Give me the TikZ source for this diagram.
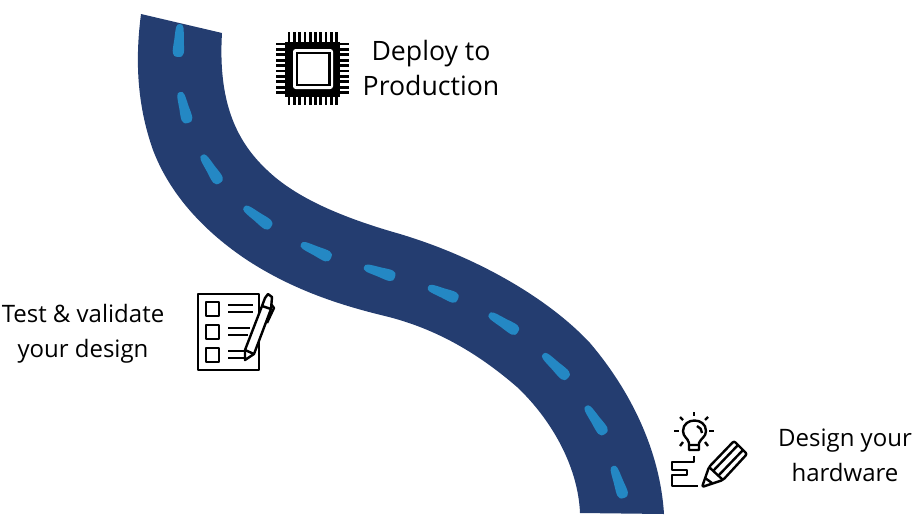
\documentclass[tikz,border=0pt]{standalone}
\usepackage{fontspec}
\setmainfont{Open Sans}
\usetikzlibrary{positioning}
\definecolor{roadblue}{HTML}{243D70}
\definecolor{lineblue}{HTML}{2488C4}
\tikzset{
  road/.style={fill=roadblue, draw=none},
  lanemark/.style={fill=lineblue, draw=none},
  caption/.style={align=center, font=\fontsize{18}{26}\selectfont, inner sep=0pt},
  bigcaption/.style={caption, font=\fontsize{20}{26}\selectfont},
  icon/.style={draw=black, line width=1.8pt, line join=round},
  pin/.style={draw=black, line width=2pt}
}
\begin{document}
\begin{tikzpicture}[x=0.75pt, y=-0.75pt]
  \useasboundingbox (0,0) rectangle (916,521);
  % road
  \fill[road] (141,14) .. controls (135,60) and (137,105) .. (153,150)
    .. controls (170,195) and (205,232) .. (247,260)
    .. controls (290,288) and (335,304) .. (385,316)
    .. controls (438,329) and (480,355) .. (517,387)
    .. controls (550,418) and (578,465) .. (580,513)
    -- (664,514)
    .. controls (660,450) and (630,390) .. (590,343)
    .. controls (550,300) and (480,258) .. (400,234)
    .. controls (340,217) and (295,197) .. (267,170)
    .. controls (235,140) and (218,100) .. (222,33) -- cycle;
  % lane marks
  \foreach \xa/\ya/\xb/\yb in {180/24/178/57, 180/92/188/123, 202/155/220/183, 244/207/271/227,
    301/244/331/258, 364/267/395/277, 428/287/458/299, 489/314/518/332, 543/354/568/378,
    586/406/605/434, 613/466/624/498} {
    \pgfmathsetmacro\lenm{veclen(\xb-\xa,\yb-\ya)}
    \pgfmathsetmacro\angm{atan2(\ya-\yb,\xb-\xa)}
    \fill[lanemark, shift={(\xa,\ya)}, rotate=\angm] (0,0) .. controls (0,4) and (3,4) .. (\lenm*.5,4.8)
      .. controls (\lenm-5,6) and (\lenm,7) .. (\lenm,0)
      .. controls (\lenm,-7) and (\lenm-5,-6) .. (\lenm*.5,-4.8)
      .. controls (3,-4) and (0,-4) .. cycle;
  }
  % chip
  \foreach \i in {0,...,9} {
    \draw[pin] (289+\i*5.3,32) -- (289+\i*5.3,105);
    \draw[pin] (276,44+\i*5.4) -- (349,44+\i*5.4);
  }
  \fill[black] (285,42) rectangle (340,97);
  \fill[white, rounded corners=2pt] (293,49) rectangle (333,89);
  \fill[black] (296,52) rectangle (331,86);
  \fill[white] (298,54) rectangle (328,84);
  % checklist
  \draw[icon] (198,294) rectangle (259,370);
  \foreach \yy in {309,332,355} \draw[icon] (206,\yy-7) rectangle (219,\yy+7);
  \draw[icon] (228,305) -- (253,305) (228,312) -- (253,312)
    (228,328) -- (250,328) (228,335) -- (248,335)
    (228,351) -- (246,351) (228,358) -- (245,358);
  \draw[icon, fill=white] (245,360) -- (245,350) -- (262,306) -- (265,298) -- (268,294) -- (272,297)
    -- (271,309) -- (254,354) -- cycle;
  \draw[icon] (245,350) -- (254,354) (262,306) -- (271,309) (271,304) -- (274,308) -- (267,323);
  % bulb and pencil
  \draw[icon] (689,450) -- (689,443) .. controls (688,438) and (683,437) .. (683,431)
    .. controls (683,417) and (706,417) .. (706,431)
    .. controls (706,437) and (701,438) .. (699,443) -- (699,450) -- cycle;
  \draw[icon] (689,445) -- (699,445) (697,426) .. controls (700,427) and (702,430) .. (702,433);
  \foreach \xa/\ya/\xb/\yb in {694/412/694/416, 680/417/683/420, 708/417/705/420, 674/431/679/431,
    709/431/714/431, 680/446/683/442, 708/446/705/442}
    \draw[icon] (\xa,\ya) -- (\xb,\yb);
  \draw[icon] (694,456) -- (694,462) -- (672,462) -- (672,470) -- (687,470) -- (687,475) -- (672,475)
    -- (672,486) -- (698,486);
  \draw[icon, rounded corners=1.5pt] (702,487) -- (709,467) -- (734,441) -- (747,454) -- (723,480) -- cycle;
  \draw[icon] (709,467) -- (723,480) (713,471) -- (738,445) (718,476) -- (743,450) (705,478) -- (712,483);
  % labels
  \node[bigcaption] (deploy) at (431,68) {Deploy to\\Production};
  \node[caption] (test) at (83,334) {Test \& validate\\your design};
  \node[caption] (hardware) at (845,455) {Design your\\hardware};
\end{tikzpicture}
\end{document}
